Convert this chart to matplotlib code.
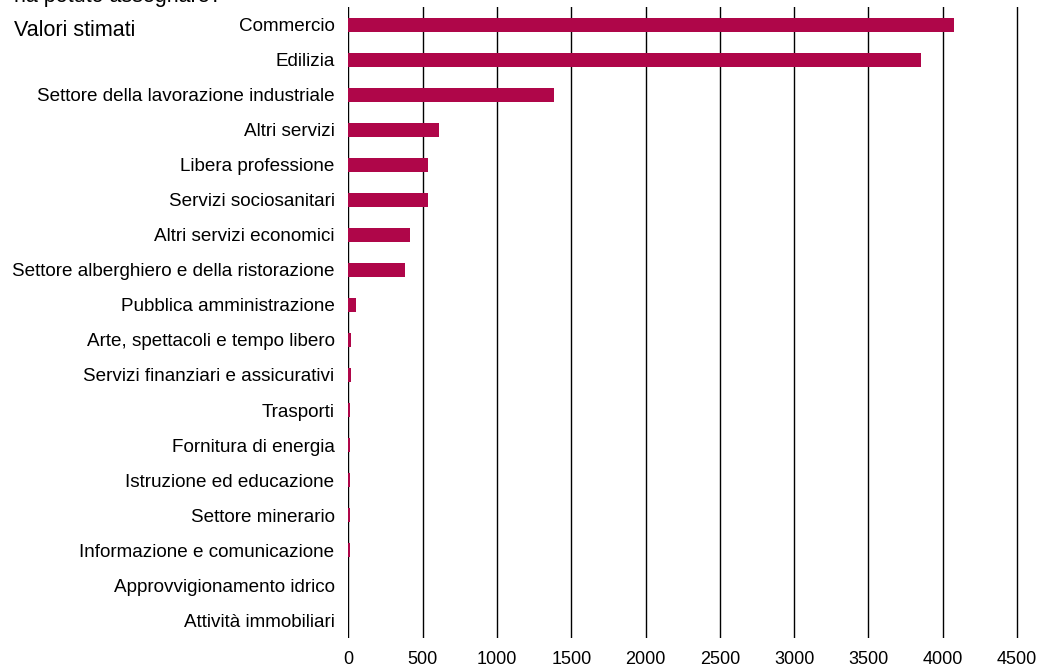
import matplotlib.pyplot as plt

categories = [
    "Commercio",
    "Edilizia",
    "Settore della lavorazione industriale",
    "Altri servizi",
    "Libera professione",
    "Servizi sociosanitari",
    "Altri servizi economici",
    "Settore alberghiero e della ristorazione",
    "Pubblica amministrazione",
    "Arte, spettacoli e tempo libero",
    "Servizi finanziari e assicurativi",
    "Trasporti",
    "Fornitura di energia",
    "Istruzione ed educazione",
    "Settore minerario",
    "Informazione e comunicazione",
    "Approvvigionamento idrico",
    "Attività immobiliari",
]
values = [4075, 3855, 1385, 613, 533, 533, 414, 378, 48, 15, 15, 8, 8, 8, 8, 8, 0, 0]
x_ticks = [0, 500, 1000, 1500, 2000, 2500, 3000, 3500, 4000, 4500]

plt.rcParams["font.family"] = ["Liberation Sans", "DejaVu Sans"]

fig = plt.figure(figsize=(10.4, 6.67), dpi=100)
ax = fig.add_axes([0.335, 0.0442, 0.6458, 0.9446])

y = list(range(len(categories)))
ax.barh(y, values, height=0.4, color="#AF0649", zorder=3)

ax.set_ylim(len(categories) - 0.5, -0.5)
ax.set_xlim(0, 4520)
ax.set_xticks(x_ticks)
ax.set_xticklabels([str(t) for t in x_ticks], fontsize=13)
ax.set_yticks(y)
ax.set_yticklabels(categories, fontsize=13.6)
ax.tick_params(axis="both", length=0)
ax.tick_params(axis="x", pad=10)
ax.tick_params(axis="y", pad=10)
ax.xaxis.grid(True, color="black", linewidth=1)
for s in ax.spines.values():
    s.set_visible(False)

# title is cut off at the top edge, as in the source image
fig.text(14 / 1040, 1 - 2 / 667, "ha potuto assegnare?", fontsize=15.5, va="baseline", ha="left")
fig.text(14 / 1040, 1 - 36 / 667, "Valori stimati", fontsize=15.5, va="baseline", ha="left")

fig.savefig("out.png", dpi=100)
